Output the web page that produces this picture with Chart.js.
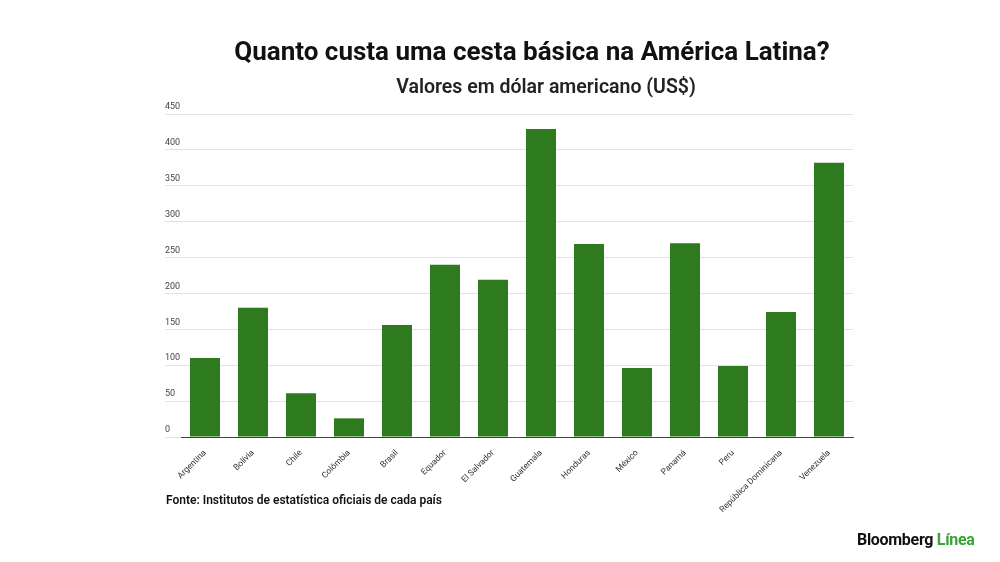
<!DOCTYPE html>
<html><head><meta charset="utf-8">
<script src="https://cdn.jsdelivr.net/npm/chart.js@4"></script>
<style>
body{margin:0;width:1000px;height:562px;background:#fff;font-family:Roboto,sans-serif;position:relative;overflow:hidden}
#c{position:absolute;left:0;top:0}
.t{position:absolute;white-space:nowrap;color:#111;font-weight:700}
</style></head><body>
<canvas id="c" width="1000" height="562"></canvas>
<div class="t" style="left:0;width:1064px;text-align:center;top:36px;font-size:26px">Quanto custa uma cesta básica na América Latina?</div>
<div class="t" style="left:0;width:1092px;text-align:center;top:75px;font-size:19.5px;font-weight:600;color:#222">Valores em dólar americano (US$)</div>
<div class="t" style="left:166px;top:493px;font-size:12px;font-weight:600">Fonte: Institutos de estatística oficiais de cada país</div>
<div class="t" style="left:857px;top:530px;font-size:16px;letter-spacing:-0.3px">Bloomberg <span style="color:#3aa335">Línea</span></div>
<script>
const categories=["Argentina","Bolívia","Chile","Colômbia","Brasil","Equador","El Salvador","Guatemala","Honduras","México","Panamá","Peru","República Dominicana","Venezuela"];
const values=[110,180,61,26,156,240,219,429,269,96,270,99,174,382];
new Chart(document.getElementById('c'),{
type:'bar',
data:{labels:categories,datasets:[{data:values,backgroundColor:'#2e7a1f',categoryPercentage:0.625,barPercentage:1}]},
options:{responsive:false,animation:false,
layout:{padding:{left:165,right:147,top:114,bottom:45}},
plugins:{legend:{display:false},tooltip:{enabled:false}},
scales:{
x:{grid:{display:false},border:{color:'#444',width:1},
 afterFit:s=>{s.height=80},
 ticks:{minRotation:45,maxRotation:45,autoSkip:false,color:'#333',font:{family:'Roboto',size:8.5},padding:3}},
y:{min:0,max:450,afterFit:s=>{s.width=16},
 grid:{color:'#e2e2e2',tickLength:16,drawTicks:true},border:{display:false},
 ticks:{stepSize:50,crossAlign:'far',labelOffset:-7,padding:0,color:'#444',font:{family:'Roboto',size:9}}}
}}});
</script></body></html>
